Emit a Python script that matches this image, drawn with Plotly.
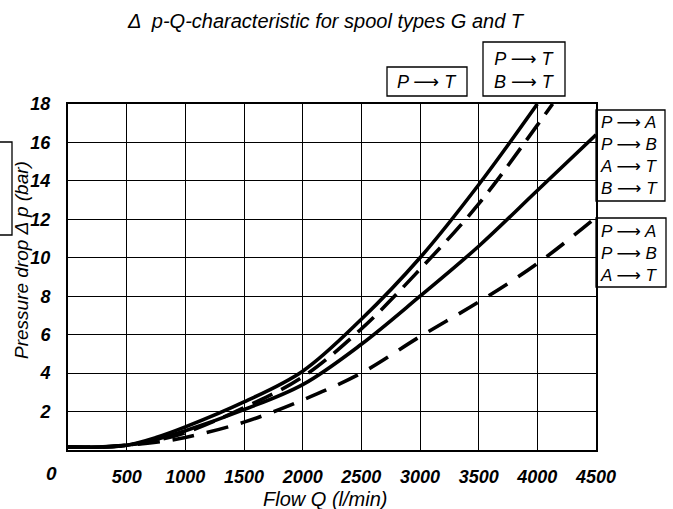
import plotly.graph_objects as go

# ---------------- data ----------------
flow_a = [0, 250, 500, 750, 1000, 1500, 2000, 2500, 3000, 3500, 4000]
dp_a = [0.15, 0.15, 0.25, 0.65, 1.2, 2.5, 4.1, 6.8, 10.0, 13.8, 18.0]          # P->T (solid)

flow_b = [0, 250, 500, 750, 1000, 1500, 2000, 2500, 3000, 3500, 4000, 4130]
dp_b = [0.15, 0.15, 0.25, 0.5, 0.9, 2.2, 3.8, 6.3, 9.4, 12.8, 16.9, 18.0]      # P->T, B->T (dashed)

flow_c = [0, 250, 500, 750, 1000, 1500, 2000, 2500, 3000, 3500, 4000, 4500]
dp_c = [0.15, 0.15, 0.25, 0.55, 1.0, 2.1, 3.4, 5.5, 8.0, 10.6, 13.5, 16.4]     # P->A, P->B, A->T, B->T (solid)

flow_d = [0, 250, 500, 750, 1000, 1500, 2000, 2500, 3000, 3500, 4000, 4500]
dp_d = [0.15, 0.15, 0.25, 0.4, 0.65, 1.45, 2.6, 4.0, 5.9, 7.7, 9.7, 12.1]      # P->A, P->B, A->T (dashed)

x_ticks = [500, 1000, 1500, 2000, 2500, 3000, 3500, 4000, 4500]
x_tick_text = ["500", "1000", "1500", "2000", "2500", "3000", "3500", "4000", "4500"]
y_ticks = [2, 4, 6, 8, 10, 12, 14, 16, 18]
y_tick_text = ["2", "4", "6", "8", "10", "12", "14", "16", "18"]

ARROW = "⟶"
title_text = "Δ  p-Q-characteristic for spool types G and T"
x_title = "Flow Q (l/min)"
y_title = "Pressure drop Δ p (bar)"
label_pt = f"P {ARROW} T"
label_pt_bt = f"P {ARROW} T<br>B {ARROW} T"
label_c = f"P {ARROW} A<br>P {ARROW} B<br>A {ARROW} T<br>B {ARROW} T"
label_d = f"P {ARROW} A<br>P {ARROW} B<br>A {ARROW} T"

# ---------------- layout helpers ----------------
W, H = 673, 509
L, R, T, B = 68, 596, 104, 450   # plot area in pixels


def px(x, y):
    """pixel -> paper coordinates"""
    return (x - L) / (R - L), (B - y) / (B - T)


FONT = "Liberation Sans, DejaVu Sans, Arial, sans-serif"

fig = go.Figure()
line_w = 3.6
fig.add_trace(go.Scatter(x=flow_a, y=dp_a, mode="lines", line=dict(color="black", width=line_w, shape="spline"),
                         showlegend=False, hoverinfo="skip"))
fig.add_trace(go.Scatter(x=flow_b, y=dp_b, mode="lines",
                         line=dict(color="black", width=line_w, shape="spline", dash="22px,10px"),
                         showlegend=False, hoverinfo="skip"))
fig.add_trace(go.Scatter(x=flow_c, y=dp_c, mode="lines", line=dict(color="black", width=line_w, shape="spline"),
                         showlegend=False, hoverinfo="skip"))
fig.add_trace(go.Scatter(x=flow_d, y=dp_d, mode="lines",
                         line=dict(color="black", width=line_w, shape="spline", dash="22px,13px"),
                         showlegend=False, hoverinfo="skip"))

shapes = []
annotations = []


def box(x0, y0, x1, y1, width=1.3):
    a0, b0 = px(x0, y1)
    a1, b1 = px(x1, y0)
    shapes.append(dict(type="rect", xref="paper", yref="paper", x0=a0, y0=b0, x1=a1, y1=b1,
                       line=dict(color="black", width=width), fillcolor="rgba(0,0,0,0)", layer="above"))


def text(x, y, s, size=17, align="center", xanchor="center", italic=True, bold=False, family=FONT,
         angle=0, yanchor="middle"):
    a, b = px(x, y)
    annotations.append(dict(xref="paper", yref="paper", x=a, y=b, text=s, showarrow=False,
                            xanchor=xanchor, yanchor=yanchor, align=align, textangle=angle,
                            font=dict(family=family, size=size, color="black",
                                      style="italic" if italic else "normal",
                                      weight="bold" if bold else "normal")))


# label boxes
box(387, 67, 467, 96)
text(427, 82, label_pt, size=18)
box(483, 42, 565, 96)
text(524, 70, label_pt_bt, size=18)
box(596, 110, 665, 201)
text(598, 155, label_c, size=17, xanchor="left", align="left")
box(596, 218, 666, 287)
text(598, 253, label_d, size=17, xanchor="left", align="left")

# leader lines from label boxes to curve ends
top_y = 18.0 + (104 - 96) / (B - T) * 18
shapes.append(dict(type="line", xref="paper", yref="y", x0=px(467, 96)[0], y0=top_y,
                   x1=flow_a[-1] / 4500, y1=dp_a[-1], line=dict(color="black", width=1.0)))
shapes.append(dict(type="line", xref="paper", yref="y", x0=px(562, 96)[0], y0=top_y,
                   x1=flow_b[-1] / 4500, y1=dp_b[-1], line=dict(color="black", width=1.5)))

# partial box at left edge (scan fragment)
box(-6, 142, 12, 235)

# title and axis titles
text(326, 21, title_text, size=20)
text(325, 499, x_title, size=20)
text(21, 260, y_title, size=19, angle=-90)
# the shared "0" label at the corner
text(51, 473, "0", size=19, bold=True)

fig.update_layout(
    width=W, height=H,
    margin=dict(l=L, r=W - R, t=T, b=H - B, pad=0),
    paper_bgcolor="white", plot_bgcolor="white",
    shapes=shapes, annotations=annotations,
    xaxis=dict(range=[0, 4500], tickvals=x_ticks, ticktext=x_tick_text,
               showgrid=True, gridcolor="black", gridwidth=1.4, zeroline=False,
               showline=True, linecolor="black", linewidth=2, mirror=True,
               ticks="", ticklabelstandoff=9,
               tickfont=dict(family=FONT, size=18, color="black", style="italic", weight="bold")),
    yaxis=dict(range=[0, 18], tickvals=y_ticks, ticktext=y_tick_text,
               showgrid=True, gridcolor="black", gridwidth=1.4, zeroline=False,
               showline=True, linecolor="black", linewidth=2, mirror=True,
               ticks="", ticklabelstandoff=12,
               tickfont=dict(family=FONT, size=18, color="black", style="italic", weight="bold")),
)

fig.write_html("out.html", config={"displayModeBar": False},
               post_script="document.body.style.margin='0';document.body.style.overflow='hidden';")
